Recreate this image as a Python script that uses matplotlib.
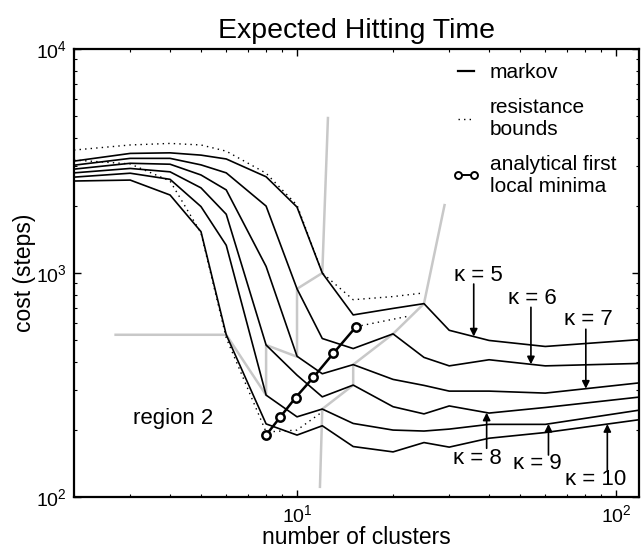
import numpy as np
import matplotlib.pyplot as plt
from matplotlib.lines import Line2D

plt.rcParams['font.family'] = ['Liberation Sans', 'DejaVu Sans']
plt.rcParams['mathtext.fontset'] = 'custom'
plt.rcParams['mathtext.rm'] = 'Liberation Sans'

# number of clusters (x) and markov cost for each kappa
clusters = [2, 3, 4, 5, 6, 8, 10, 12, 15, 20, 25, 30, 40, 60, 120]
kappa5 = [3160, 3420, 3440, 3360, 3230, 2690, 1970, 1000, 650, 695, 730, 555, 500, 470, 505]
kappa6 = [3030, 3250, 3250, 3040, 2800, 1990, 850, 510, 460, 535, 420, 385, 410, 385, 395]
kappa7 = [2910, 3090, 3060, 2740, 2350, 1070, 425, 355, 390, 335, 315, 297, 297, 291, 324]
kappa8 = [2800, 2930, 2830, 2400, 1830, 477, 350, 280, 316, 253, 235, 255, 237, 251, 280]
kappa9 = [2680, 2790, 2620, 1980, 1330, 285, 228, 247, 213, 199, 197, 201, 211, 211, 245]
kappa10 = [2575, 2600, 2230, 1530, 530, 212, 189, 208, 168, 159, 175, 167, 183, 194, 222]
kappas = [5, 6, 7, 8, 9, 10]

# resistance bounds
upper_x = [2, 3, 4, 5, 6, 8, 10, 12, 15, 20, 25]
upper_y = [3540, 3730, 3790, 3730, 3500, 2790, 2010, 1000, 760, 785, 815]
lower_x = [2, 3, 4, 5, 6, 8, 10, 12]
lower_y = [3195, 3070, 2575, 1510, 513, 195, 199, 240]
mid_x = [15.3, 22.5]
mid_y = [576, 643]

# analytical first local minima
ana_x = [8.0, 8.85, 9.9, 11.25, 13.0, 15.3]
ana_y = [189, 227, 278, 342, 438, 575]

# region boundaries (grey)
grey1_x = [2.7, 6, 8, 8, 10, 10, 12, 12.5]
grey1_y = [530, 530, 285, 477, 423, 850, 1000, 4920]
grey2_x = [11.8, 12, 15, 15, 20, 25, 29]
grey2_y = [111, 247, 316, 390, 535, 730, 2010]

# kappa labels: arrow x, arrow tail y, text x, text y
arrow_x = [35.8, 54.1, 80.4, 39.3, 61.4, 93.9]
arrow_tail = [893, 703, 561, 165, 154, 132]
label_x = [36.9, 54.6, 81.7, 36.7, 56.8, 86.4]
label_y = [975, 771, 617, 148, 141, 120]

fig = plt.figure(figsize=(6.42, 5.51), dpi=100)
ax = fig.add_axes([0.1153, 0.098, 0.880, 0.813])

grey = '#c8c8c8'
ax.plot(grey1_x, grey1_y, color=grey, lw=1.8, zorder=1)
ax.plot(grey2_x, grey2_y, color=grey, lw=1.8, zorder=1)

dots = (0, (1, 3))
ax.plot(upper_x, upper_y, color='k', lw=1.0, ls=dots, zorder=2)
ax.plot(lower_x, lower_y, color='k', lw=1.0, ls=dots, zorder=2)
ax.plot(mid_x, mid_y, color='k', lw=1.0, ls=dots, zorder=2)

curves = [kappa5, kappa6, kappa7, kappa8, kappa9, kappa10]
for c in curves:
    ax.plot(clusters, c, color='k', lw=1.2, zorder=3)

ax.plot(ana_x, ana_y, color='k', lw=1.8, marker='o', ms=6, mfc='white',
        mec='k', mew=1.8, zorder=4)

# kappa arrows
logx = np.log(clusters)
for k, c, xa, tail, tx, ty in zip(kappas, curves, arrow_x, arrow_tail, label_x, label_y):
    tip = np.exp(np.interp(np.log(xa), logx, np.log(c)))
    ax.annotate('', xy=(xa, tip), xytext=(xa, tail),
                arrowprops=dict(arrowstyle='-|>', color='k', lw=1.2,
                                mutation_scale=11, shrinkA=0, shrinkB=0))
    ax.text(tx, ty, '\u03ba = %d' % k, ha='center', va='center', fontsize=16)

ax.text(4.1, 225, 'region 2', ha='center', va='center', fontsize=16)

ax.set_xscale('log')
ax.set_yscale('log')
ax.set_xlim(2, 118)
ax.set_ylim(100, 10000)

ax.set_title('Expected Hitting Time', fontsize=20.5, pad=8)
ax.set_xlabel('number of clusters', fontsize=16.5, labelpad=0)
ax.set_ylabel('cost (steps)', fontsize=16.5, labelpad=0)

ax.tick_params(which='both', direction='in', top=True, right=True, labelsize=14)
ax.tick_params(which='major', length=5, width=1.0, pad=5)
ax.tick_params(which='minor', length=2.5, width=0.8)
for s in ax.spines.values():
    s.set_linewidth(1.6)

handles = [
    Line2D([], [], color='k', lw=1.6),
    Line2D([], [], color='k', lw=1.0, ls=dots),
    Line2D([], [], color='k', lw=1.4, marker='o', ms=5, mfc='white', mew=1.4),
]
ax.legend(handles, ['markov', 'resistance\nbounds', 'analytical first\nlocal minima'],
          loc='upper left', bbox_to_anchor=(0.668, 0.968), frameon=False,
          fontsize=15, handlelength=1.4, handletextpad=0.45, labelspacing=0.75,
          borderpad=0, borderaxespad=0, numpoints=2)

fig.savefig('out.png', dpi=100)
